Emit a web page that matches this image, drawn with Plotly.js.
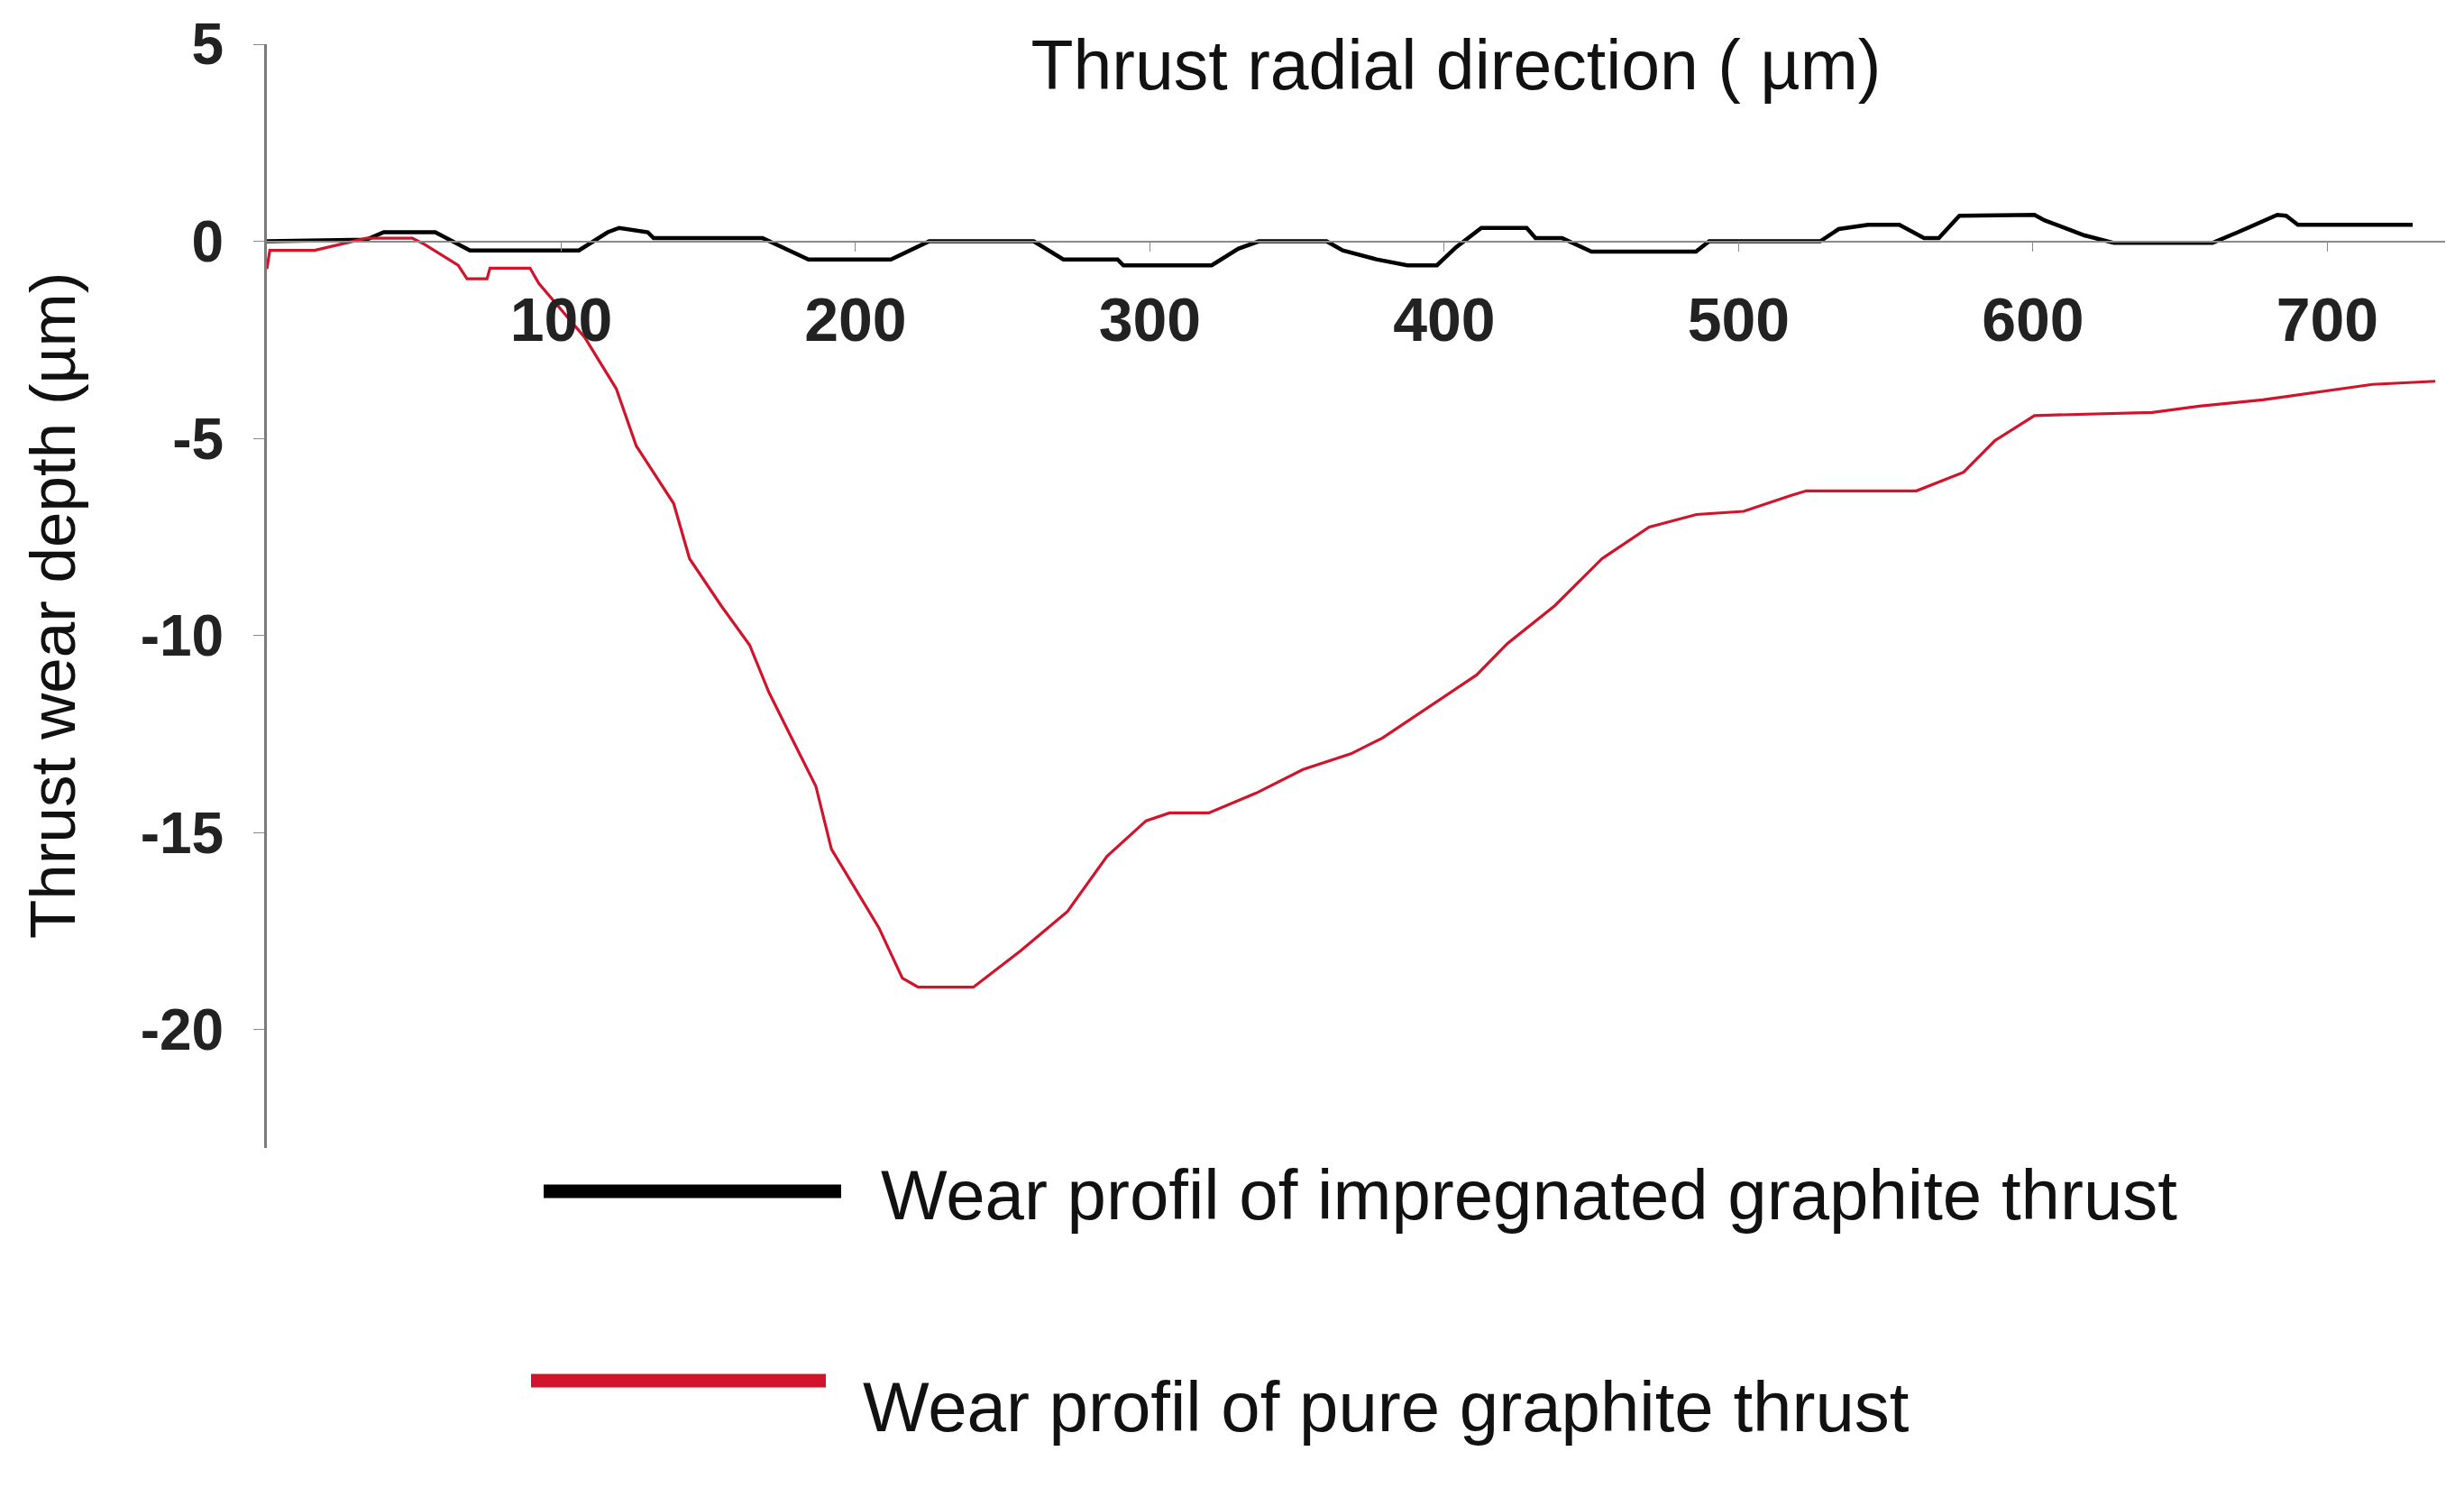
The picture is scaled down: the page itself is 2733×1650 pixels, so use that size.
<!DOCTYPE html>
<html>
<head>
<meta charset="utf-8">
<script src="https://cdn.plot.ly/plotly-3.0.1.min.js"></script>
<style>
  html, body { margin: 0; padding: 0; background: #fff; }
  #plot { width: 2733px; height: 1650px; }
</style>
</head>
<body>
<div id="plot"></div>
<script>
// impregnated graphite thrust (black)
var xImp = [0, 33.8, 39.7, 57.2, 69, 106, 115.8, 119.7, 129.4, 131.4, 168.4, 184, 212, 225, 260.5, 270.6, 289, 291, 321, 330, 337, 360, 365.5, 377, 387.5, 397.5, 404, 412.6, 428, 431, 440, 450, 485.5, 490, 527.7, 534, 544, 554.6, 563, 568, 575, 600.5, 604, 617.5, 627.5, 661, 669.6, 683, 686, 690, 729];
var yImp = [0, 0.04, 0.23, 0.23, -0.23, -0.23, 0.23, 0.34, 0.23, 0.08, 0.08, -0.46, -0.46, 0, 0, -0.46, -0.46, -0.61, -0.61, -0.19, 0, 0, -0.23, -0.46, -0.61, -0.61, -0.15, 0.34, 0.34, 0.08, 0.08, -0.26, -0.26, 0, 0, 0.31, 0.42, 0.42, 0.08, 0.08, 0.65, 0.67, 0.53, 0.15, -0.04, -0.04, 0.23, 0.67, 0.65, 0.42, 0.42];

// pure graphite thrust (red)
var xPure = [0, 1, 16.2, 33.8, 49.4, 53.4, 65, 68, 74.8, 75.8, 89.4, 92.4, 108, 118.7, 125.5, 138.2, 143.6, 154.3, 164, 170.5, 178.5, 186.5, 191.8, 199.9, 207.9, 215.9, 221.3, 240, 256, 272, 285.4, 298.7, 306.7, 320, 336, 352, 368.3, 379, 395, 411, 421.5, 437.6, 453.6, 469.6, 485.7, 501.7, 517.7, 523, 560.4, 576.4, 587, 600.5, 640.5, 656.5, 678, 694, 715.3, 736.7];
var yPure = [-0.7, -0.23, -0.23, 0.08, 0.08, -0.07, -0.61, -0.95, -0.95, -0.68, -0.68, -1.07, -2.44, -3.74, -5.19, -6.65, -8.05, -9.24, -10.24, -11.43, -12.63, -13.82, -15.42, -16.41, -17.41, -18.69, -18.92, -18.92, -18.0, -17.0, -15.6, -14.7, -14.5, -14.5, -14.0, -13.4, -13.0, -12.6, -11.8, -11.0, -10.2, -9.24, -8.05, -7.25, -6.93, -6.85, -6.45, -6.33, -6.33, -5.86, -5.06, -4.42, -4.34, -4.18, -4.02, -3.86, -3.63, -3.55];

var xTicks = [100, 200, 300, 400, 500, 600, 700];
var yTicks = [5, 0, -5, -10, -15, -20];
var yTickText = ['5', '0', '-5', '-10', '-15', '-20'];
var xRange = [0, 740];
var yRange = [-23, 5];

var names = ['Wear profil of impregnated graphite thrust', 'Wear profil of pure graphite thrust'];
var colors = ['#000000', '#d0142c'];

// plot area in pixels
var W = 2733, H = 1650;
var L = 296, R = 21, T = 49, B = 377;
var pw = W - L - R, ph = H - T - B;
function px(x) { return (x - L) / pw; }
function py(y) { return (T + ph - y) / ph; }

var traces = [
  { x: xImp, y: yImp, mode: 'lines', type: 'scatter', name: names[0],
    line: { color: colors[0], width: 4.5 } },
  { x: xPure, y: yPure, mode: 'lines', type: 'scatter', name: names[1],
    line: { color: colors[1], width: 3.2 } }
];

var family = 'Liberation Sans, Arial, sans-serif';
var titleFont = { family: family, size: 77, color: '#111' };
var axisTitleFont = { family: family, size: 71, color: '#111' };
var legendFont = { family: family, size: 78, color: '#111' };

var layout = {
  width: W, height: H,
  margin: { l: L, r: R, t: T, b: B },
  paper_bgcolor: '#fff', plot_bgcolor: '#fff',
  showlegend: false,
  title: { text: 'Thrust radial direction ( µm)', font: titleFont,
           x: 1615 / W, xanchor: 'center', y: 1 - 72 / H, yanchor: 'middle' },
  xaxis: {
    range: xRange, anchor: 'free',
    position: (0 - yRange[0]) / (yRange[1] - yRange[0]),
    tickvals: xTicks, showgrid: false, zeroline: false,
    showline: true, linecolor: '#8a8a8a', linewidth: 2,
    ticks: 'outside', ticklen: 10, tickcolor: '#8a8a8a',
    ticklabelstandoff: 18,
    tickfont: { family: family, size: 68, color: '#222', weight: 'bold' }
  },
  yaxis: {
    range: yRange, tickvals: yTicks, ticktext: yTickText,
    showgrid: false, zeroline: false,
    showline: true, linecolor: '#7a7a7a', linewidth: 3,
    ticks: 'outside', ticklen: 12, tickcolor: '#8a8a8a',
    ticklabelstandoff: 20,
    tickfont: { family: family, size: 64, color: '#222', weight: 'bold' }
  },
  shapes: [
    { type: 'line', xref: 'paper', yref: 'paper', x0: px(603), x1: px(933), y0: py(1321), y1: py(1321),
      line: { color: colors[0], width: 15 } },
    { type: 'line', xref: 'paper', yref: 'paper', x0: px(589), x1: px(916), y0: py(1531), y1: py(1531),
      line: { color: colors[1], width: 15 } }
  ],
  annotations: [
    { text: 'Thrust wear depth (µm)', textangle: -90, showarrow: false,
      xref: 'paper', yref: 'paper', x: px(58), y: py(672), xanchor: 'center', yanchor: 'middle',
      font: axisTitleFont },
    { text: names[0], showarrow: false, xref: 'paper', yref: 'paper',
      x: px(975), y: py(1325), xanchor: 'left', yanchor: 'middle', font: legendFont },
    { text: names[1], showarrow: false, xref: 'paper', yref: 'paper',
      x: px(955), y: py(1560), xanchor: 'left', yanchor: 'middle', font: legendFont }
  ]
};

Plotly.newPlot('plot', traces, layout, { staticPlot: true });
</script>
</body>
</html>
